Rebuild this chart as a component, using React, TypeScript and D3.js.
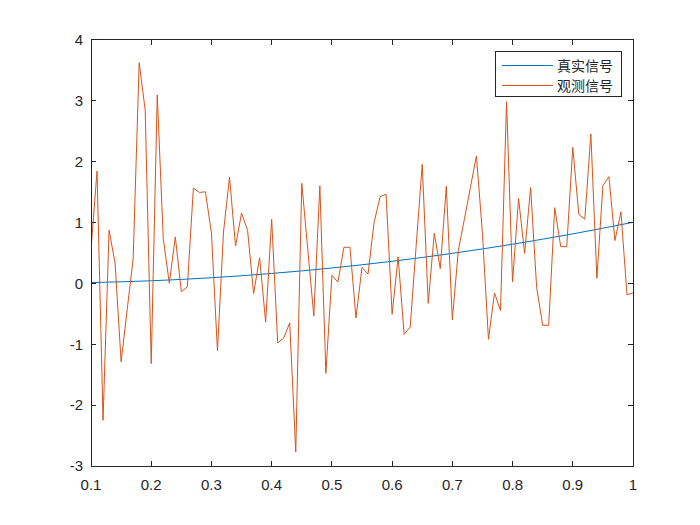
import React, { useEffect } from "react";
import * as d3 from "d3";

// sample grid of the observed signal: 0.1 .. 1.0 in 0.01 steps
const tStart = 0.1;
const tStep = 0.01;

const observed = [
  0.55, 1.84, -2.25, 0.87, 0.33, -1.29, -0.44, 0.4, 3.62, 2.84,
  -1.32, 3.09, 0.73, 0.0, 0.76, -0.14, -0.06, 1.56, 1.49, 1.5,
  0.82, -1.11, 0.84, 1.74, 0.61, 1.15, 0.87, -0.17, 0.42, -0.64,
  1.05, -0.98, -0.9, -0.65, -2.77, 1.64, 0.55, -0.54, 1.6, -1.48,
  0.13, 0.02, 0.59, 0.59, -0.57, 0.26, 0.15, 0.99, 1.42, 1.46,
  -0.51, 0.43, -0.84, -0.72, 0.62, 1.95, -0.33, 0.82, 0.24, 1.59,
  -0.6, 0.54, 1.05, 1.57, 2.09, 0.82, -0.92, -0.16, -0.45, 2.98,
  0.02, 1.39, 0.49, 1.57, -0.07, -0.69, -0.69, 1.24, 0.6, 0.6,
  2.23, 1.13, 1.05, 2.45, 0.08, 1.6, 1.75, 0.7, 1.17, -0.19,
  -0.16,
];

// true signal, read at the x ticks
const trueX = [0.1, 0.2, 0.3, 0.4, 0.5, 0.6, 0.7, 0.8, 0.9, 1.0];
const trueY = [0.01, 0.04, 0.09, 0.16, 0.25, 0.36, 0.49, 0.64, 0.81, 1.0];

const xTicks = [0.1, 0.2, 0.3, 0.4, 0.5, 0.6, 0.7, 0.8, 0.9, 1];
const yTicks = [-3, -2, -1, 0, 1, 2, 3, 4];
const legendLabels = ["真实信号", "观测信号"];

const W = 700;
const H = 525;
const m = { left: 91, top: 39.5, right: 633, bottom: 466 };
const axisColor = "#262626";
const colors = ["#0072BD", "#D95319"];

const App: React.FC = () => {
  useEffect(() => {
    document.body.style.margin = "0";
    document.body.style.background = "#fff";
  }, []);

  const x = d3.scaleLinear().domain([0.1, 1]).range([m.left, m.right]);
  const y = d3.scaleLinear().domain([-3, 4]).range([m.bottom, m.top]);

  const obsPts: [number, number][] = observed.map((v, i) => [tStart + i * tStep, v]);
  const truePts: [number, number][] = trueX.map((t, i) => [t, trueY[i]]);

  const straight = d3
    .line<[number, number]>()
    .x((d) => x(d[0]))
    .y((d) => y(d[1]));
  const smooth = d3
    .line<[number, number]>()
    .x((d) => x(d[0]))
    .y((d) => y(d[1]))
    .curve(d3.curveMonotoneX);

  const tickLen = 5;
  const font = "'Liberation Sans', Arial, sans-serif";

  const lg = { x: 495, y: 51, w: 126, h: 45 };

  return (
    <svg width={W} height={H} style={{ display: "block", background: "#fff" }}>
      <defs>
        <clipPath id="plotClip">
          <rect x={m.left} y={m.top} width={m.right - m.left} height={m.bottom - m.top} />
        </clipPath>
      </defs>

      <g clipPath="url(#plotClip)">
        <path d={smooth(truePts) ?? ""} fill="none" stroke={colors[0]} strokeWidth={1} />
        <path d={straight(obsPts) ?? ""} fill="none" stroke={colors[1]} strokeWidth={1} />
      </g>

      {/* axes box */}
      <rect
        x={m.left}
        y={m.top}
        width={m.right - m.left}
        height={m.bottom - m.top}
        fill="none"
        stroke={axisColor}
        strokeWidth={1}
        shapeRendering="crispEdges"
      />

      {xTicks.map((t) => (
        <g key={"x" + t}>
          <line x1={x(t)} x2={x(t)} y1={m.bottom} y2={m.bottom - tickLen} stroke={axisColor} shapeRendering="crispEdges" />
          <line x1={x(t)} x2={x(t)} y1={m.top} y2={m.top + tickLen} stroke={axisColor} shapeRendering="crispEdges" />
          <text x={x(t)} y={m.bottom + 24} textAnchor="middle" fontFamily={font} fontSize={15} fill={axisColor}>
            {d3.format("")(t)}
          </text>
        </g>
      ))}

      {yTicks.map((t) => (
        <g key={"y" + t}>
          <line x1={m.left} x2={m.left + tickLen} y1={y(t)} y2={y(t)} stroke={axisColor} shapeRendering="crispEdges" />
          <line x1={m.right} x2={m.right - tickLen} y1={y(t)} y2={y(t)} stroke={axisColor} shapeRendering="crispEdges" />
          <text x={m.left - 8} y={y(t)} dy="0.36em" textAnchor="end" fontFamily={font} fontSize={15} fill={axisColor}>
            {t}
          </text>
        </g>
      ))}

      {/* legend */}
      <rect x={lg.x} y={lg.y} width={lg.w} height={lg.h} fill="#fff" stroke={axisColor} strokeWidth={1} shapeRendering="crispEdges" />
      {legendLabels.map((label, i) => {
        const ly = lg.y + 14.5 + i * 20;
        return (
          <g key={label}>
            <line x1={lg.x + 7} x2={lg.x + 58} y1={ly} y2={ly} stroke={colors[i]} strokeWidth={1} />
            <text
              x={lg.x + 62}
              y={ly}
              dy="0.36em"
              fontFamily="'Noto Sans CJK SC', sans-serif"
              fontSize={14}
              fill={axisColor}
            >
              {label}
            </text>
          </g>
        );
      })}
    </svg>
  );
};

export default App;
